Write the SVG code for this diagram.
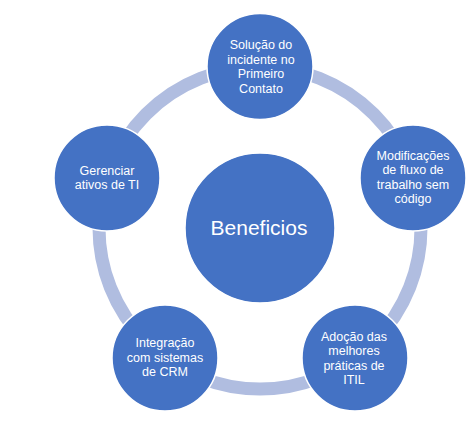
<svg xmlns="http://www.w3.org/2000/svg" width="476" height="437" viewBox="0 0 476 437">
<style>
.node{fill:#4472C4;stroke:#FFFFFF;stroke-width:1.5}
.t{fill:#FFFFFF;font-family:"Liberation Sans",Arial,sans-serif;font-size:12.5px;text-anchor:middle}
.big{font-size:21px}
</style>
<rect width="476" height="437" fill="#FFFFFF"/>
<g id="connectors">
<circle cx="260" cy="228" r="161" fill="none" stroke="#B0BDE0" stroke-width="13"/>
</g>
<g id="center">
<circle class="node" cx="260" cy="228" r="75"/>
<text class="t big" x="259" y="235">Beneficios</text>
</g>
<g id="n1">
<circle class="node" cx="260" cy="66.5" r="53"/>
<text class="t" x="261" y="49">Solução do</text>
<text class="t" x="261" y="63.5">incidente no</text>
<text class="t" x="261" y="78">Primeiro</text>
<text class="t" x="261" y="92.5">Contato</text>
</g>
<g id="n2">
<circle class="node" cx="413" cy="178" r="53"/>
<text class="t" x="413" y="159.5">Modificações</text>
<text class="t" x="413" y="174">de fluxo de</text>
<text class="t" x="413" y="188.5">trabalho sem</text>
<text class="t" x="413" y="203">código</text>
</g>
<g id="n3">
<circle class="node" cx="355" cy="358" r="53"/>
<text class="t" x="354" y="340.5">Adoção das</text>
<text class="t" x="354" y="355">melhores</text>
<text class="t" x="354" y="369.5">práticas de</text>
<text class="t" x="354" y="384">ITIL</text>
</g>
<g id="n4">
<circle class="node" cx="165" cy="358" r="53"/>
<text class="t" x="165" y="347">Integração</text>
<text class="t" x="165" y="361.5">com sistemas</text>
<text class="t" x="165" y="376">de CRM</text>
</g>
<g id="n5">
<circle class="node" cx="107" cy="178" r="53"/>
<text class="t" x="107" y="175">Gerenciar</text>
<text class="t" x="107" y="189">ativos de TI</text>
</g>
</svg>
